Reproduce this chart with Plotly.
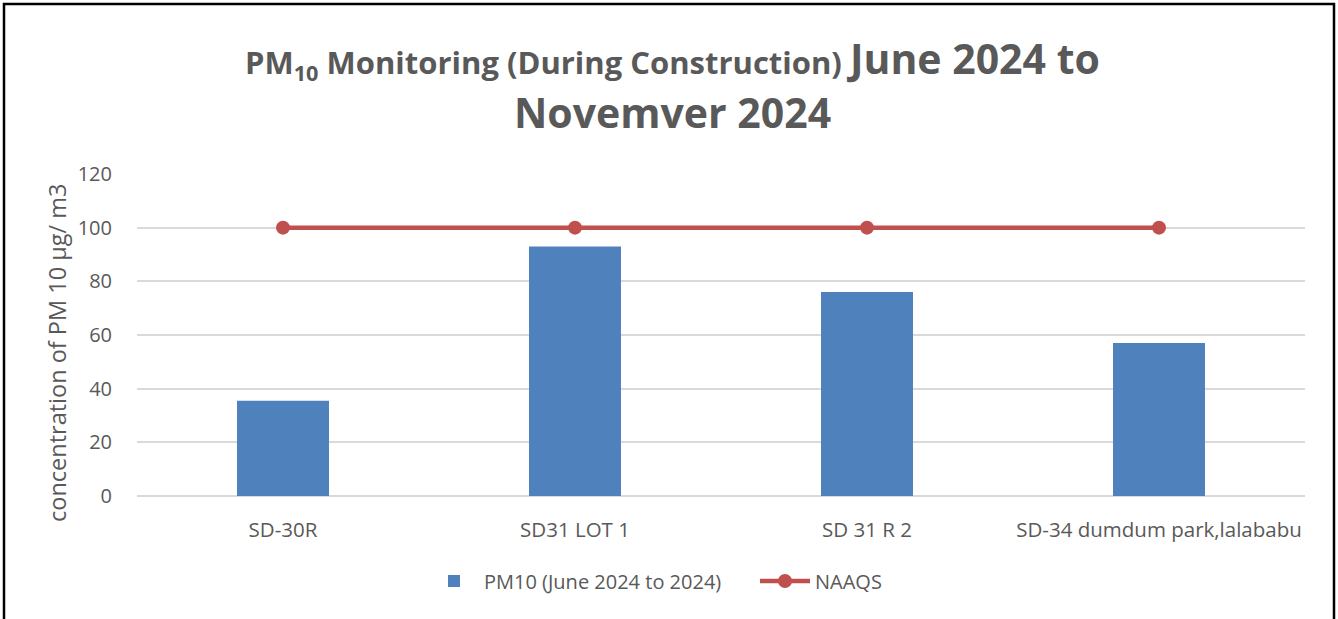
import plotly.graph_objects as go

categories = ["SD-30R", "SD31 LOT 1", "SD 31 R 2", "SD-34 dumdum park,lalababu"]
pm10_values = [35.5, 93, 76, 57]
naaqs_values = [100, 100, 100, 100]
bar_name = "PM10 (June 2024 to 2024)"
line_name = "NAAQS"
y_title = "concentration of PM 10 µg/ m3"

FONT = "Open Sans, sans-serif"
TXT = "#595959"

W, H = 1338, 619
L, R, T, B = 137, 1305, 174, 496
PW, PH = R - L, B - T

fig = go.Figure()
fig.add_trace(go.Bar(x=categories, y=pm10_values, name=bar_name,
                     marker=dict(color="#4F81BD", line=dict(width=0)), width=0.315))
fig.add_trace(go.Scatter(x=categories, y=naaqs_values, name=line_name, mode="lines+markers",
                         line=dict(color="#C0504D", width=4.5),
                         marker=dict(color="#C0504D", size=14)))

fig.update_layout(
    width=W, height=H,
    paper_bgcolor="white", plot_bgcolor="white",
    margin=dict(l=L, r=W - R, t=T, b=H - B),
    font=dict(family=FONT, color=TXT),
    showlegend=True,
    legend=dict(orientation="h", x=(424 - L) / PW, xanchor="left", y=-(581 - B) / PH, yanchor="middle",
                font=dict(size=20, family=FONT, color=TXT), itemwidth=50,
                entrywidth=266, entrywidthmode="pixels",
                traceorder="normal"),
    yaxis=dict(range=[0, 120], dtick=20, showgrid=True, gridcolor="#D9D9D9", gridwidth=1.5,
               zeroline=True, zerolinecolor="#D9D9D9", zerolinewidth=1.5,
               tickfont=dict(size=20, family=FONT, color=TXT),
               ticks="outside", ticklen=20, tickcolor="rgba(0,0,0,0)"),
    xaxis=dict(showgrid=False, showline=False,
               ticks="outside", ticklen=15, tickcolor="rgba(0,0,0,0)",
               tickfont=dict(size=20.5, family=FONT, color=TXT)),
)

fig.add_annotation(xref="paper", yref="paper", x=(57 - L) / PW, y=(B - 353) / PH,
                   xanchor="center", yanchor="middle", textangle=-90, text=y_title,
                   showarrow=False, font=dict(size=23.5, family=FONT, color=TXT))

title_x = (672 - L) / PW
fig.add_annotation(xref="paper", yref="paper", x=title_x, y=1 + (T - 58) / PH, yanchor="middle",
                   xanchor="center",
                   text="<b>PM<sub>10</sub> Monitoring (During Construction) <span style='font-size:41px'>June 2024 to</span></b>",
                   showarrow=False, font=dict(size=31, family=FONT, color=TXT))
fig.add_annotation(xref="paper", yref="paper", x=title_x, y=1 + (T - 112) / PH, yanchor="middle",
                   xanchor="center", text="<b>Novemver 2024</b>", showarrow=False,
                   font=dict(size=41, family=FONT, color=TXT))

fig.add_shape(type="rect", xref="paper", yref="paper",
              x0=-(L - 4) / PW, x1=1 + (1334 - R) / PW,
              y0=-(700 - B) / PH, y1=1 + (T - 4) / PH,
              line=dict(color="black", width=2.5), fillcolor="rgba(0,0,0,0)", layer="above")

fig.write_html("out.html", config={"displayModeBar": False},
               post_script="document.body.style.margin='0';document.body.style.overflow='hidden';")
